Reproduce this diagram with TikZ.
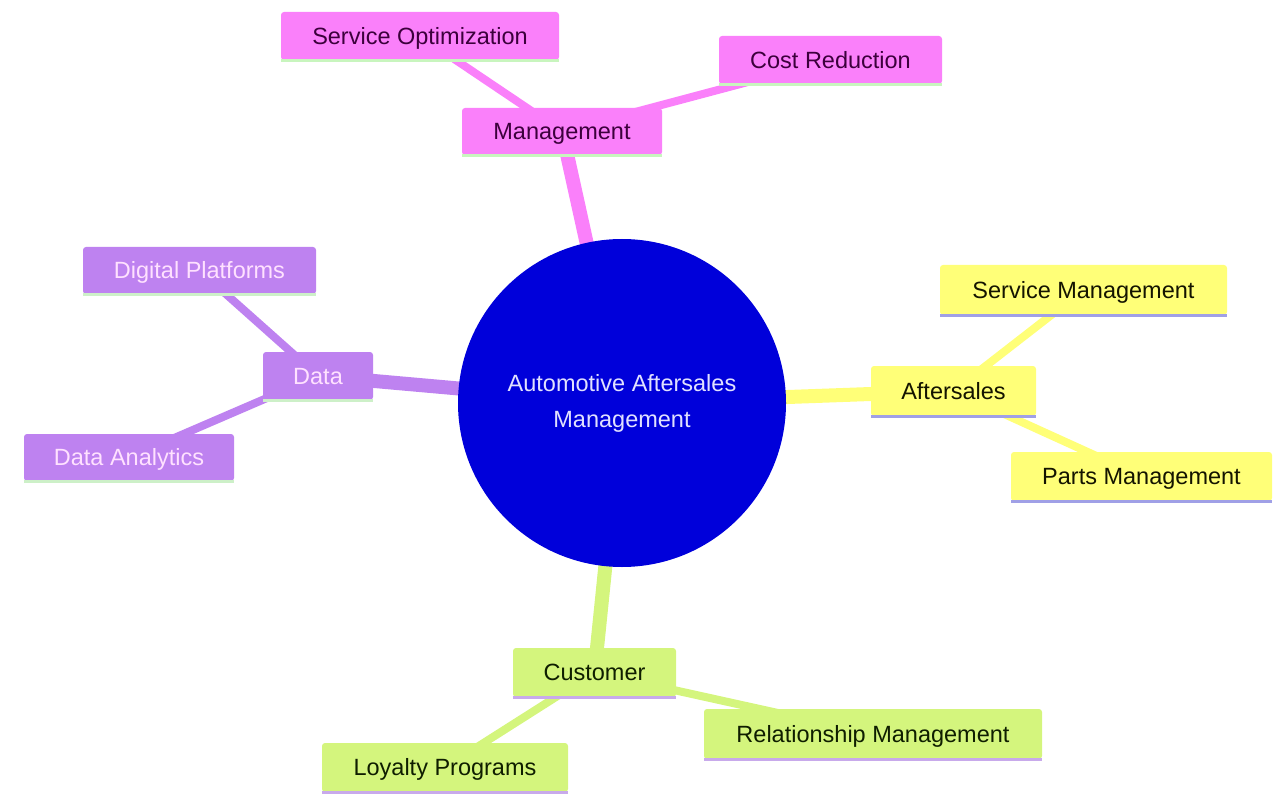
\documentclass[tikz,border=0pt]{standalone}
\usepackage{fontspec}
\setmainfont{Liberation Sans}
\usetikzlibrary{backgrounds}
\definecolor{pinkf}{RGB}{250,128,250}
\definecolor{pinkt}{RGB}{60,0,60}
\definecolor{pinkb}{RGB}{200,245,190}
\definecolor{purf}{RGB}{190,130,240}
\definecolor{purt}{RGB}{255,225,255}
\definecolor{purb}{RGB}{205,240,200}
\definecolor{yelf}{RGB}{255,255,120}
\definecolor{yelt}{RGB}{20,20,0}
\definecolor{yelb}{RGB}{160,160,230}
\definecolor{grnf}{RGB}{212,245,125}
\definecolor{grnt}{RGB}{15,30,0}
\definecolor{grnb}{RGB}{200,170,235}
\definecolor{hubf}{RGB}{0,0,218}
\definecolor{hubt}{RGB}{225,225,255}
\tikzset{
  x=1pt,y=-1pt,
  leaf/.style={rectangle,rounded corners=3pt,inner sep=0pt,text height=16.8pt,text depth=0pt,
    font=\fontsize{23.5}{28}\selectfont},
  pinkbox/.style={leaf,fill=pinkf,text=pinkt},
  purbox/.style={leaf,fill=purf,text=purt},
  yelbox/.style={leaf,fill=yelf,text=yelt},
  grnbox/.style={leaf,fill=grnf,text=grnt},
  main/.style={line width=14pt},
  sub/.style={line width=8pt},
  uline/.style={line width=3pt},
}
\begin{document}
\begin{tikzpicture}
\useasboundingbox (0,0) rectangle (1274,794);
% hub
\node[circle,fill=hubf,minimum size=328pt,inner sep=0pt,text=hubt,align=center,
  font=\fontsize{23.5}{36}\selectfont] (hub) at (622,403) {Automotive Aftersales\\Management};
% pink
\node[pinkbox,minimum width=200pt,minimum height=47pt] (mgmt) at (562,131.5) {Management};
\node[pinkbox,minimum width=278pt,minimum height=48pt] (sopt) at (420,36) {Service Optimization};
\node[pinkbox,minimum width=223pt,minimum height=48pt] (cost) at (830.5,60) {Cost Reduction};
% purple
\node[purbox,minimum width=110pt,minimum height=48pt] (data) at (318,376) {Data};
\node[purbox,minimum width=233pt,minimum height=47pt] (digi) at (199.5,270.5) {Digital Platforms};
\node[purbox,minimum width=210pt,minimum height=47pt] (dana) at (129,457.5) {Data Analytics};
% yellow
\node[yelbox,minimum width=165pt,minimum height=50pt] (after) at (953.5,391) {Aftersales};
\node[yelbox,minimum width=287pt,minimum height=50pt] (smgmt) at (1083.5,290) {Service Management};
\node[yelbox,minimum width=261pt,minimum height=49pt] (parts) at (1141.5,476.5) {Parts Management};
% green
\node[grnbox,minimum width=163pt,minimum height=49pt] (cust) at (594.5,672.5) {Customer};
\node[grnbox,minimum width=338pt,minimum height=50pt] (rel) at (873,734) {Relationship Management};
\node[grnbox,minimum width=246pt,minimum height=49pt] (loy) at (445,767.5) {Loyalty Programs};
% underlines
\draw[uline,pinkb] (mgmt.south west) -- (mgmt.south east);
\draw[uline,pinkb] (sopt.south west) -- (sopt.south east);
\draw[uline,pinkb] (cost.south west) -- (cost.south east);
\draw[uline,purb] (data.south west) -- (data.south east);
\draw[uline,purb] (digi.south west) -- (digi.south east);
\draw[uline,purb] (dana.south west) -- (dana.south east);
\draw[uline,yelb] (after.south west) -- (after.south east);
\draw[uline,yelb] (smgmt.south west) -- (smgmt.south east);
\draw[uline,yelb] (parts.south west) -- (parts.south east);
\draw[uline,grnb] (cust.south west) -- (cust.south east);
\draw[uline,grnb] (rel.south west) -- (rel.south east);
\draw[uline,grnb] (loy.south west) -- (loy.south east);
% connectors
\begin{scope}[on background layer]
\draw[main,pinkf] (hub.center) -- (mgmt.center);
\draw[sub,pinkf] (mgmt.center) -- (sopt.center);
\draw[sub,pinkf] (mgmt.center) -- (cost.center);
\draw[main,purf] (hub.center) -- (data.center);
\draw[sub,purf] (data.center) -- (digi.center);
\draw[sub,purf] (data.center) -- (dana.center);
\draw[main,yelf] (hub.center) -- (after.center);
\draw[sub,yelf] (after.center) -- (smgmt.center);
\draw[sub,yelf] (after.center) -- (parts.center);
\draw[main,grnf] (hub.center) -- (cust.center);
\draw[sub,grnf] (cust.center) -- (rel.center);
\draw[sub,grnf] (cust.center) -- (loy.center);
\end{scope}
\end{tikzpicture}
\end{document}
